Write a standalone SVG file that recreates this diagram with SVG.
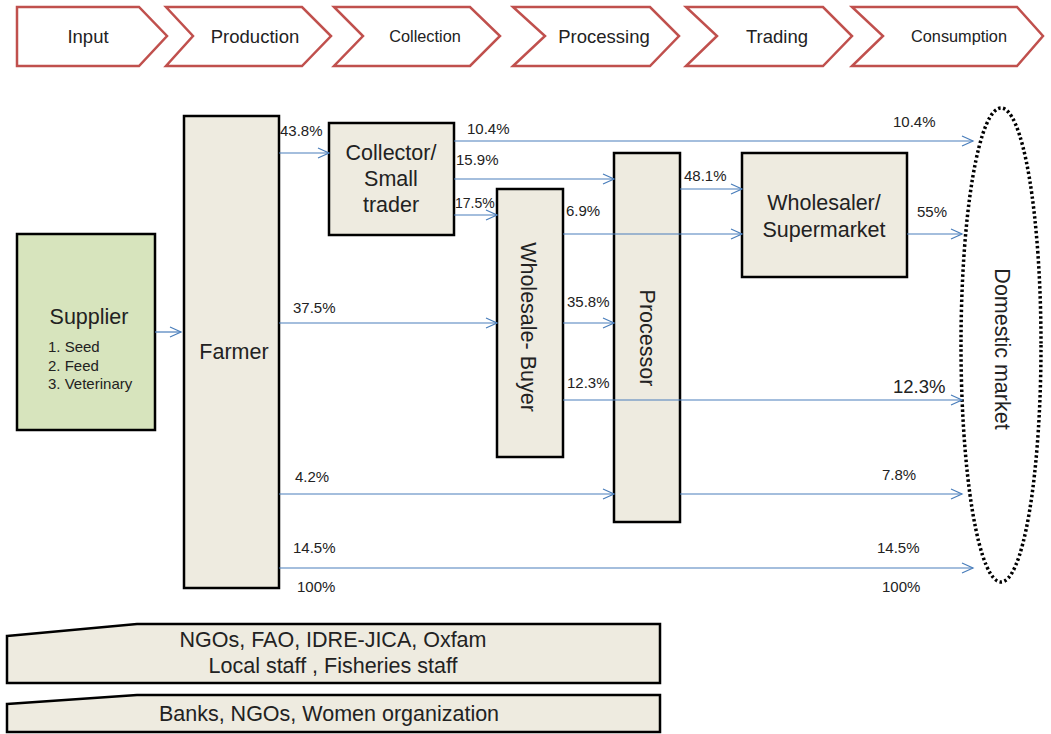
<svg xmlns="http://www.w3.org/2000/svg" width="1051" height="734" viewBox="0 0 1051 734">
<defs>
<marker id="ah" markerUnits="userSpaceOnUse" markerWidth="14" markerHeight="14" refX="12" refY="6" orient="auto">
<path d="M1,1 L12,6 L1,11" fill="none" stroke="#4a7ebb" stroke-width="1.2"/>
</marker>
<style>
text{font-family:"Liberation Sans",Arial,sans-serif;fill:#222}
.chev{fill:#fff;stroke:#c0504d;stroke-width:2.5}
.box{fill:#eeebe0;stroke:#000;stroke-width:2.5}
.ct{font-size:18.5px;text-anchor:middle}
.cs{font-size:16.3px;text-anchor:middle}
.nt{font-size:21.5px;text-anchor:middle}
.lb{font-size:15px}
.cn{stroke:#4a7ebb;stroke-width:1.2;fill:none;marker-end:url(#ah)}
</style>
</defs>
<g id="stages">
<polygon class="chev" points="17,7 139,7 167,36 139,66 17,66"/>
<text class="ct" x="88" y="43">Input</text>
<polygon class="chev" points="166,7 302,7 331,36 302,66 166,66 193,36"/>
<text class="ct" x="255" y="43">Production</text>
<polygon class="chev" points="334,7 470,7 500,36 470,66 334,66 363,36"/>
<text class="cs" x="425" y="42">Collection</text>
<polygon class="chev" points="513,7 650,7 679,36 650,66 513,66 545,36"/>
<text class="ct" x="604" y="43">Processing</text>
<polygon class="chev" points="686,7 823,7 852,36 823,66 686,66 717,36"/>
<text class="ct" x="777" y="43">Trading</text>
<polygon class="chev" points="852,7 1017,7 1043,36 1017,66 852,66 883,36"/>
<text class="cs" x="959" y="42">Consumption</text>
</g>
<g id="supplier">
<rect x="17" y="234" width="138" height="196" fill="#d7e4bd" stroke="#000" stroke-width="2.5"/>
<text class="nt" x="89" y="324">Supplier</text>
<text font-size="15" x="48" y="352">1. Seed</text>
<text font-size="15" x="48" y="371">2. Feed</text>
<text font-size="15" x="48" y="389">3. Veterinary</text>
</g>
<g id="farmer">
<rect class="box" x="184" y="116" width="95" height="472"/>
<text class="nt" x="234" y="359">Farmer</text>
</g>
<g id="collector">
<rect class="box" x="329" y="123" width="125" height="112"/>
<text class="nt" x="391" y="160">Collector/</text>
<text class="nt" x="391" y="186">Small</text>
<text class="nt" x="391" y="212">trader</text>
</g>
<g id="wholesale-buyer">
<rect class="box" x="497" y="189" width="66" height="268"/>
<text class="nt" transform="translate(521,327) rotate(90)">Wholesale- Buyer</text>
</g>
<g id="processor">
<rect class="box" x="614" y="153" width="66" height="369"/>
<text class="nt" transform="translate(640,338) rotate(90)">Processor</text>
</g>
<g id="wholesaler">
<rect class="box" x="742" y="153" width="165" height="124"/>
<text class="nt" x="824" y="210">Wholesaler/</text>
<text class="nt" x="824" y="237">Supermarket</text>
</g>
<g id="domestic-market">
<ellipse cx="1001" cy="345" rx="40" ry="237" fill="none" stroke="#000" stroke-width="3.5" stroke-dasharray="2.5 2.5"/>
<text class="nt" transform="translate(995,349) rotate(90)">Domestic market</text>
</g>
<g id="connectors">
<line class="cn" x1="155" y1="332" x2="181" y2="332"/>
<line class="cn" x1="279" y1="153" x2="329" y2="153"/>
<line class="cn" x1="454" y1="141" x2="973" y2="141"/>
<line class="cn" x1="454" y1="179" x2="614" y2="179"/>
<line class="cn" x1="454" y1="215" x2="497" y2="215"/>
<line class="cn" x1="563" y1="234" x2="742" y2="234"/>
<line class="cn" x1="680" y1="189" x2="742" y2="189"/>
<line class="cn" x1="907" y1="234" x2="962" y2="234"/>
<line class="cn" x1="279" y1="323" x2="497" y2="323"/>
<line class="cn" x1="563" y1="323" x2="614" y2="323"/>
<line class="cn" x1="563" y1="400" x2="962" y2="400"/>
<line class="cn" x1="279" y1="494" x2="614" y2="494"/>
<line class="cn" x1="680" y1="494" x2="962" y2="494"/>
<line class="cn" x1="279" y1="568" x2="973" y2="568"/>
</g>
<g id="labels">
<text class="lb" x="280" y="136">43.8%</text>
<text class="lb" x="467" y="134">10.4%</text>
<text class="lb" x="893" y="127">10.4%</text>
<text class="lb" x="456" y="165">15.9%</text>
<text font-size="14" x="455" y="208">17.5%</text>
<text class="lb" x="566" y="216">6.9%</text>
<text class="lb" x="684" y="181">48.1%</text>
<text class="lb" x="917" y="217">55%</text>
<text class="lb" x="293" y="313">37.5%</text>
<text class="lb" x="567" y="307">35.8%</text>
<text class="lb" x="567" y="388">12.3%</text>
<text font-size="18.5" x="893" y="393">12.3%</text>
<text class="lb" x="295" y="482">4.2%</text>
<text class="lb" x="882" y="480">7.8%</text>
<text class="lb" x="293" y="553">14.5%</text>
<text class="lb" x="877" y="553">14.5%</text>
<text class="lb" x="297" y="592">100%</text>
<text class="lb" x="882" y="592">100%</text>
</g>
<g id="panel-support">
<polygon class="box" points="7,636 137,624 660,624 660,683 7,683" stroke-width="2.5"/>
<text class="nt" x="333" y="647">NGOs, FAO, IDRE-JICA, Oxfam</text>
<text class="nt" x="333" y="673">Local staff , Fisheries staff</text>
</g>
<g id="panel-finance">
<polygon class="box" points="7,704 137,695 660,695 660,732 7,732" stroke-width="2.5"/>
<text class="nt" x="329" y="721">Banks, NGOs, Women organization</text>
</g>
</svg>
